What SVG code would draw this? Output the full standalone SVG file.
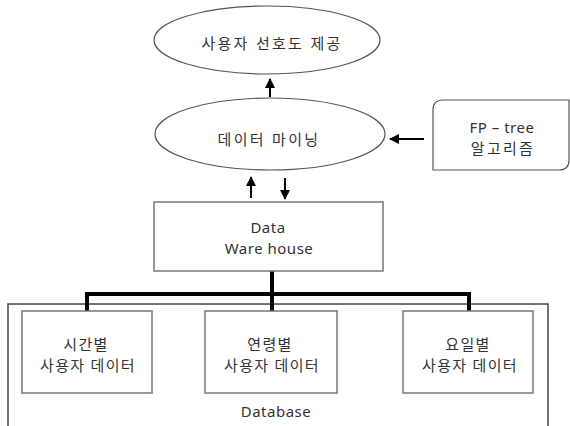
<svg xmlns="http://www.w3.org/2000/svg" width="570" height="426" viewBox="0 0 570 426">
<style>
text{font-family:"Noto Sans","Noto Sans CJK KR",sans-serif;font-size:15px;fill:#333;text-anchor:middle;dominant-baseline:central}
.ell{fill:#fff;stroke:#555;stroke-width:1.2}
.box{fill:#fff;stroke:#777;stroke-width:1.5}
.arr{stroke:#000;stroke-width:2;fill:none;marker-end:url(#ah)}
.bus{stroke:#000;stroke-width:4;fill:none;stroke-linejoin:miter}
.t{letter-spacing:2.3px}
.k{letter-spacing:1.3px}
.l{letter-spacing:0.5px}
</style>
<defs>
<marker id="ah" viewBox="0 0 10 10" refX="9" refY="5" markerWidth="5" markerHeight="5" orient="auto" markerUnits="strokeWidth">
<path d="M0,0 L10,5 L0,10 Z" fill="#000"/>
</marker>
</defs>
<g id="database">
<rect x="8" y="304" width="540" height="130" fill="#fff" stroke="#444" stroke-width="1.5"/>
<text class="l" x="276" y="411">Database</text>
</g>
<g id="connectors">
<line class="arr" x1="270" y1="97" x2="270" y2="79"/>
<line class="arr" x1="424" y1="139" x2="390" y2="139"/>
<line class="arr" x1="251" y1="198" x2="251" y2="177"/>
<line class="arr" x1="285" y1="178" x2="285" y2="199"/>
<polyline class="bus" points="87,312 87,294 469,294 469,312"/>
<line class="bus" x1="272" y1="271" x2="272" y2="312"/>
</g>
<g id="pref">
<ellipse class="ell" cx="267" cy="40" rx="113" ry="34"/>
<text class="t" x="272" y="43">사용자 선호도 제공</text>
</g>
<g id="mining">
<ellipse class="ell" cx="270" cy="134" rx="115" ry="36"/>
<text class="t" x="269" y="139">데이터 마이닝</text>
</g>
<g id="fptree">
<path d="M443,100 H569 V160 Q569,170 559,170 H433 V110 Q433,100 443,100 Z" fill="#fff" stroke="#555" stroke-width="1.2"/>
<text class="l" x="502" y="127">FP – tree</text>
<text class="t" x="503" y="148">알고리즘</text>
</g>
<g id="warehouse">
<rect class="box" x="154" y="202" width="229" height="69"/>
<text class="l" x="268" y="227">Data</text>
<text class="l" x="269" y="248">Ware house</text>
</g>
<g id="time">
<rect class="box" x="22" y="311" width="130" height="82"/>
<text class="k" x="86" y="344">시간별</text>
<text class="k" x="88" y="365">사용자 데이터</text>
</g>
<g id="age">
<rect class="box" x="205" y="311" width="132" height="82"/>
<text class="k" x="270" y="344">연령별</text>
<text class="k" x="272" y="365">사용자 데이터</text>
</g>
<g id="day">
<rect class="box" x="403" y="311" width="130" height="82"/>
<text class="k" x="468" y="344">요일별</text>
<text class="k" x="470" y="365">사용자 데이터</text>
</g>
</svg>
